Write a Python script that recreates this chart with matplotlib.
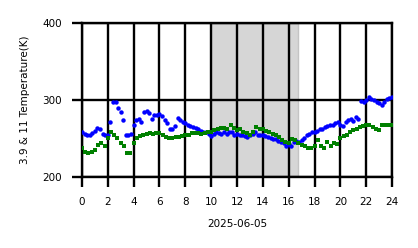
import numpy as np
import matplotlib
matplotlib.use("Agg")
import matplotlib.pyplot as plt

# 3.9 K channel (blue), every 0.2 h
t_blue = np.arange(0, 24.001, 0.2)
temp_blue = [
    259, 256, 255, 254, 257, 260, 264, 262, 256, 255,
    254, 272, 298, 297, 290, 285, 274, 255, 254, 256,
    268, 274, 276, 272, 284, 286, 283, 276, 281, 280,
    282, 279, 274, 270, 263, 262, 266, 277, 274, 272,
    270, 268, 266, 265, 264, 262, 260, 259, 258, 256,
    253, 256, 258, 257, 256, 258, 256, 259, 258, 255,
    256, 254, 255, 253, 252, 254, 256, 258, 255, 254,
    255, 253, 252, 251, 250, 249, 247, 246, 244, 241,
    243, 240, 246, 247, 245, 248, 251, 254, 256, 258,
    258, 260, 262, 263, 265, 266, 268, 267, 270, 272,
    268, 266, 272, 274, 276, 273, 278, 276, 299, 297,
    300, 304, 301, 300, 298, 296, 294, 298, 301, 303,
    304,
]

# 11 K channel (green), every 0.25 h
t_green = np.arange(0, 24.001, 0.25)
temp_green = [
    238, 233, 231, 233, 235, 242, 244, 240,
    251, 259, 255, 251, 244, 240, 231, 231,
    244, 251, 253, 255, 256, 257, 256, 257,
    257, 255, 252, 251, 251, 252, 252, 253,
    254, 255, 257, 257, 257, 256, 257, 258,
    259, 261, 262, 264, 264, 263, 268, 264,
    261, 262, 258, 257, 255, 258, 265, 262,
    262, 260, 258, 256, 255, 252, 248, 246,
    244, 250, 248, 244, 242, 240, 238, 238,
    240, 248, 240, 238, 246, 240, 244, 243,
    251, 253, 255, 258, 261, 263, 265, 266,
    268, 267, 265, 263, 261, 268, 268, 268,
    268,
]

shade = (10.0, 16.7)

fig = plt.figure(figsize=(4.18, 2.48), dpi=100)
ax = fig.add_axes([0.196, 0.286, 0.742, 0.621])

ax.axvspan(shade[0], shade[1], facecolor="#d6d6d6", edgecolor="#c4c4c4", lw=1, zorder=0)
ax.plot(t_blue, temp_blue, "o", color="blue", ms=3.2, mew=0, zorder=3)
ax.plot(t_green, temp_green, "s", color="green", ms=2.6, mew=0, zorder=4)

ax.set_xlim(0, 24)
ax.set_ylim(200, 400)
ax.set_xticks(range(0, 25, 2))
ax.set_yticks([200, 300, 400])
ax.grid(True, color="black", lw=1.7)
for s in ax.spines.values():
    s.set_color("black")
    s.set_linewidth(1.7)
ax.tick_params(direction="out", length=7, width=1.7, labelsize=7.5, pad=7.5)
ax.set_xlabel("2025-06-05", fontsize=7.5, labelpad=8.5)
ax.set_ylabel("3.9 & 11 Temperature(K)", fontsize=7.5, labelpad=9)

fig.savefig("out.png", dpi=100)
